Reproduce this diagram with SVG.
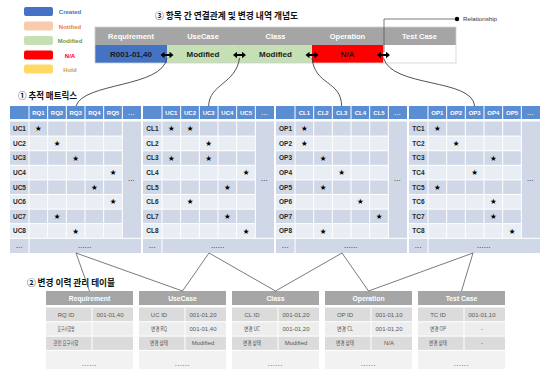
<svg xmlns="http://www.w3.org/2000/svg" xmlns:xlink="http://www.w3.org/1999/xlink" width="540" height="369" viewBox="0 0 540 369">
<defs>
<style>
text{font-family:'Liberation Sans',Arial,sans-serif}
.lg{font-size:6px;font-weight:bold;text-anchor:middle}
.ti{font-family:'Noto Sans CJK KR','Noto Sans',sans-serif;font-weight:bold;font-size:9px;fill:#111}
.bh{font-size:7.5px;font-weight:bold;fill:#fff;text-anchor:middle}
.bd{font-size:8px;font-weight:bold;fill:#1a1a1a;text-anchor:middle}
.th{font-size:6px;font-weight:bold;fill:#fff;text-anchor:middle}
.rl{font-size:6.5px;font-weight:bold;fill:#262626;text-anchor:middle}
.dt{font-size:6px;font-weight:bold;fill:#333;text-anchor:middle;letter-spacing:0.6px}
.st{font-family:'DejaVu Sans',sans-serif;font-size:7.5px;fill:#000;text-anchor:middle}
.tbh{font-size:6.8px;font-weight:bold;fill:#fff;text-anchor:middle}
.tc{font-size:6px;fill:#595959;text-anchor:middle}
.kr{font-family:'Noto Sans CJK KR','Noto Sans',sans-serif;font-size:6px;fill:#595959;text-anchor:middle}
.cv{fill:none;stroke:#404040;stroke-width:0.9}
.ln{fill:none;stroke:#595959;stroke-width:0.8}
</style>
<path id="dbl" d="M-6.5,0 L-2.5,-3.2 L-2.5,-1 L2.5,-1 L2.5,-3.2 L6.5,0 L2.5,3.2 L2.5,1 L-2.5,1 L-2.5,3.2 Z" fill="#000"/>
<g id="grid">
<rect x="0" y="106" width="131" height="13" fill="#5B8DD3"/>
<rect x="0" y="121.5" width="112.33" height="14.6" fill="#D0D8E8"/>
<rect x="0" y="136.1" width="112.33" height="14.6" fill="#E9EDF4"/>
<rect x="0" y="150.7" width="112.33" height="14.6" fill="#D0D8E8"/>
<rect x="0" y="165.3" width="112.33" height="14.6" fill="#E9EDF4"/>
<rect x="0" y="179.9" width="112.33" height="14.6" fill="#D0D8E8"/>
<rect x="0" y="194.5" width="112.33" height="14.6" fill="#E9EDF4"/>
<rect x="0" y="209.1" width="112.33" height="14.6" fill="#D0D8E8"/>
<rect x="0" y="223.7" width="112.33" height="14.6" fill="#E9EDF4"/>
<rect x="112.33" y="121.5" width="18.67" height="116.8" fill="#D0D8E8"/>
<rect x="0" y="238.3" width="131" height="14.7" fill="#D0D8E8"/>
<path d="M19,106V253 M37.67,106V238.3 M56.33,106V238.3 M75,106V238.3 M93.67,106V238.3 M112.33,106V238.3 M0,136.1H112.33 M0,150.7H112.33 M0,165.3H112.33 M0,179.9H112.33 M0,194.5H112.33 M0,209.1H112.33 M0,223.7H112.33 M0,238.3H131" stroke="#fff" stroke-width="1" fill="none"/>
<text class="th" x="121.67" y="114.7" style="letter-spacing:0.6px">...</text>
<text class="dt" x="121.67" y="181">...</text>
<text class="dt" x="9.5" y="248">...</text>
<text class="dt" x="75" y="248">......</text>
</g>
<g id="tbl">
<rect x="0" y="291" width="87" height="14" fill="#A6A6A6"/>
<rect x="0" y="307.5" width="87" height="14.3" fill="#DBDBDB"/>
<rect x="0" y="321.8" width="87" height="14.3" fill="#EDEDED"/>
<rect x="0" y="336.1" width="87" height="14.3" fill="#DBDBDB"/>
<rect x="0" y="350.4" width="87" height="18.6" fill="#F2F2F2"/>
<path d="M0,321.8H87 M0,336.1H87 M0,350.4H87 M46,307.5V350.4" stroke="#fff" stroke-width="1" fill="none"/>
<text class="tc" x="43.5" y="365.5" style="letter-spacing:0.8px;font-weight:bold;fill:#666">......</text>
</g>
</defs>
<rect width="540" height="369" fill="#fff"/>

<g id="legend">
<rect x="24" y="7" width="29" height="9" rx="2" fill="#4472C4"/>
<text class="lg" x="70" y="14" fill="#4472C4">Created</text>
<rect x="24" y="21.5" width="29" height="9" rx="2" fill="#F8CBAD"/>
<text class="lg" x="70" y="28.5" fill="#ED7D31">Notified</text>
<rect x="24" y="36" width="29" height="9" rx="2" fill="#C5E0B4"/>
<text class="lg" x="70" y="43" fill="#6B9A3E">Modified</text>
<rect x="24" y="50.5" width="29" height="9" rx="2" fill="#FF0000"/>
<text class="lg" x="70" y="57.5" fill="#FF0000">N/A</text>
<rect x="24" y="64.5" width="29" height="9" rx="2" fill="#FFD966"/>
<text class="lg" x="70" y="71.5" fill="#C9A227">Hold</text>
</g>

<g id="titles">
<text class="ti" x="155" y="18.5" textLength="143" lengthAdjust="spacingAndGlyphs">③ 항목 간 연결관계 및 변경 내역 개념도</text>
<text class="ti" x="18" y="99" textLength="59" lengthAdjust="spacingAndGlyphs">① 추적 매트릭스</text>
<text class="ti" x="27" y="286" textLength="88" lengthAdjust="spacingAndGlyphs">② 변경 이력 관리 테이블</text>
</g>

<g id="concept-bar">
<rect x="95" y="27" width="361" height="18" fill="#A5A5A5"/>
<rect x="95" y="45" width="72" height="18" fill="#4472C4"/>
<rect x="167" y="45" width="72.5" height="18" fill="#C5E0B4"/>
<rect x="239.5" y="45" width="72.5" height="18" fill="#C5E0B4"/>
<rect x="312" y="45" width="71.5" height="18" fill="#FF0000"/>
<rect x="383.5" y="45" width="72.5" height="18" fill="#fff"/>
<path d="M239.5,45V63" stroke="#B5CFA3" stroke-width="0.6"/>
<rect x="95" y="27" width="361" height="36" fill="none" stroke="#D0D0D0" stroke-width="0.8"/>
<text class="bh" x="131" y="38.7">Requirement</text>
<text class="bh" x="203" y="38.7">UseCase</text>
<text class="bh" x="275.5" y="38.7">Class</text>
<text class="bh" x="347.5" y="38.7">Operation</text>
<text class="bh" x="419.5" y="38.7">Test Case</text>
<text class="bd" x="131" y="57">R001-01,40</text>
<text class="bd" x="203" y="57">Modified</text>
<text class="bd" x="275.5" y="57">Modified</text>
<text class="bd" x="347.5" y="57">N/A</text>
</g>

<g id="relationship-label">
<path d="M384,52V19H455" class="ln"/>
<circle cx="457" cy="19" r="2.2" fill="#000"/>
<text x="463" y="21.2" style="font-size:6.2px;fill:#333">Relationship</text>
</g>

<g id="matrix-rq-uc">
<use xlink:href="#grid" x="10"/>
<text class="th" x="38.33" y="114.7">RQ1</text><text class="th" x="57" y="114.7">RQ2</text><text class="th" x="75.67" y="114.7">RQ3</text><text class="th" x="94.33" y="114.7">RQ4</text><text class="th" x="113" y="114.7">RQ5</text>
<text class="rl" x="19.5" y="131.2">UC1</text><text class="rl" x="19.5" y="145.8">UC2</text><text class="rl" x="19.5" y="160.4">UC3</text><text class="rl" x="19.5" y="175">UC4</text><text class="rl" x="19.5" y="189.6">UC5</text><text class="rl" x="19.5" y="204.2">UC6</text><text class="rl" x="19.5" y="218.8">UC7</text><text class="rl" x="19.5" y="233.4">UC8</text>
<text class="st" x="38.33" y="131.4">★</text><text class="st" x="57" y="146">★</text><text class="st" x="75.67" y="160.6">★</text><text class="st" x="113" y="175.2">★</text><text class="st" x="94.33" y="189.8">★</text><text class="st" x="113" y="204.4">★</text><text class="st" x="57" y="219">★</text><text class="st" x="75.67" y="233.6">★</text>
</g>

<g id="matrix-uc-cl">
<use xlink:href="#grid" x="143"/>
<text class="th" x="171.33" y="114.7">UC1</text><text class="th" x="190" y="114.7">UC2</text><text class="th" x="208.67" y="114.7">UC3</text><text class="th" x="227.33" y="114.7">UC4</text><text class="th" x="246" y="114.7">UC5</text>
<text class="rl" x="152.5" y="131.2">CL1</text><text class="rl" x="152.5" y="145.8">CL2</text><text class="rl" x="152.5" y="160.4">CL3</text><text class="rl" x="152.5" y="175">CL4</text><text class="rl" x="152.5" y="189.6">CL5</text><text class="rl" x="152.5" y="204.2">CL6</text><text class="rl" x="152.5" y="218.8">CL7</text><text class="rl" x="152.5" y="233.4">CL8</text>
<text class="st" x="171.33" y="131.4">★</text><text class="st" x="190" y="131.4">★</text><text class="st" x="208.67" y="146">★</text><text class="st" x="171.33" y="160.6">★</text><text class="st" x="208.67" y="160.6">★</text><text class="st" x="246" y="175.2">★</text><text class="st" x="227.33" y="189.8">★</text><text class="st" x="190" y="204.4">★</text><text class="st" x="227.33" y="219">★</text><text class="st" x="246" y="233.6">★</text>
</g>

<g id="matrix-cl-op">
<use xlink:href="#grid" x="276"/>
<text class="th" x="304.33" y="114.7">CL1</text><text class="th" x="323" y="114.7">CL2</text><text class="th" x="341.67" y="114.7">CL3</text><text class="th" x="360.33" y="114.7">CL4</text><text class="th" x="379" y="114.7">CL5</text>
<text class="rl" x="285.5" y="131.2">OP1</text><text class="rl" x="285.5" y="145.8">OP2</text><text class="rl" x="285.5" y="160.4">OP3</text><text class="rl" x="285.5" y="175">OP4</text><text class="rl" x="285.5" y="189.6">OP5</text><text class="rl" x="285.5" y="204.2">OP6</text><text class="rl" x="285.5" y="218.8">OP7</text><text class="rl" x="285.5" y="233.4">OP8</text>
<text class="st" x="304.33" y="131.4">★</text><text class="st" x="304.33" y="146">★</text><text class="st" x="323" y="160.6">★</text><text class="st" x="341.67" y="175.2">★</text><text class="st" x="323" y="189.8">★</text><text class="st" x="360.33" y="204.4">★</text><text class="st" x="379" y="219">★</text><text class="st" x="323" y="233.6">★</text>
</g>

<g id="matrix-op-tc">
<use xlink:href="#grid" x="409"/>
<text class="th" x="437.33" y="114.7">OP1</text><text class="th" x="456" y="114.7">OP2</text><text class="th" x="474.67" y="114.7">OP3</text><text class="th" x="493.33" y="114.7">OP4</text><text class="th" x="512" y="114.7">OP5</text>
<text class="rl" x="418.5" y="131.2">TC1</text><text class="rl" x="418.5" y="145.8">TC2</text><text class="rl" x="418.5" y="160.4">TC3</text><text class="rl" x="418.5" y="175">TC4</text><text class="rl" x="418.5" y="189.6">TC5</text><text class="rl" x="418.5" y="204.2">TC6</text><text class="rl" x="418.5" y="218.8">TC7</text><text class="rl" x="418.5" y="233.4">TC8</text>
<text class="st" x="437.33" y="131.4">★</text><text class="st" x="456" y="146">★</text><text class="st" x="493.33" y="160.6">★</text><text class="st" x="474.67" y="175.2">★</text><text class="st" x="437.33" y="189.8">★</text><text class="st" x="493.33" y="204.4">★</text><text class="st" x="493.33" y="219">★</text><text class="st" x="512" y="233.6">★</text>
</g>

<g id="table-requirement">
<use xlink:href="#tbl" x="46"/>
<text class="tbh" x="89.5" y="300.5">Requirement</text>
<text class="tc" x="66" y="316.8">RQ ID</text><text class="tc" x="110" y="316.8">001-01,40</text>
<text class="kr" x="66" y="331.1" textLength="17" lengthAdjust="spacingAndGlyphs">요구사항명</text>
<text class="kr" x="66" y="345.4" textLength="25" lengthAdjust="spacingAndGlyphs">관련 요구사항</text>
</g>
<g id="table-usecase">
<use xlink:href="#tbl" x="139"/>
<text class="tbh" x="182.5" y="300.5">UseCase</text>
<text class="tc" x="159" y="316.8">UC ID</text><text class="tc" x="203" y="316.8">001-01,20</text>
<text class="kr" x="159" y="331.1" textLength="16" lengthAdjust="spacingAndGlyphs">변경 RQ</text><text class="tc" x="203" y="331">001-01,40</text>
<text class="kr" x="159" y="345.4" textLength="18" lengthAdjust="spacingAndGlyphs">변경 상태</text><text class="tc" x="203" y="345.3">Modified</text>
</g>
<g id="table-class">
<use xlink:href="#tbl" x="232"/>
<text class="tbh" x="275.5" y="300.5">Class</text>
<text class="tc" x="252" y="316.8">CL ID</text><text class="tc" x="296" y="316.8">001-01,20</text>
<text class="kr" x="252" y="331.1" textLength="16" lengthAdjust="spacingAndGlyphs">변경 UC</text><text class="tc" x="296" y="331">001-01,20</text>
<text class="kr" x="252" y="345.4" textLength="18" lengthAdjust="spacingAndGlyphs">변경 상태</text><text class="tc" x="296" y="345.3">Modified</text>
</g>
<g id="table-operation">
<use xlink:href="#tbl" x="325"/>
<text class="tbh" x="368.5" y="300.5">Operation</text>
<text class="tc" x="345" y="316.8">OP ID</text><text class="tc" x="389" y="316.8">001-01,10</text>
<text class="kr" x="345" y="331.1" textLength="16" lengthAdjust="spacingAndGlyphs">변경 CL</text><text class="tc" x="389" y="331">001-01,20</text>
<text class="kr" x="345" y="345.4" textLength="18" lengthAdjust="spacingAndGlyphs">변경 상태</text><text class="tc" x="389" y="345.3">N/A</text>
</g>
<g id="table-testcase">
<use xlink:href="#tbl" x="418"/>
<text class="tbh" x="461.5" y="300.5">Test Case</text>
<text class="tc" x="438" y="316.8">TC ID</text><text class="tc" x="482" y="316.8">001-01,10</text>
<text class="kr" x="438" y="331.1" textLength="16" lengthAdjust="spacingAndGlyphs">변경 OP</text><text class="tc" x="482" y="331">-</text>
<text class="kr" x="438" y="345.4" textLength="18" lengthAdjust="spacingAndGlyphs">변경 상태</text><text class="tc" x="482" y="345.3">-</text>
</g>

<g id="connectors">
<path class="cv" d="M167,58 C162,88 84,82 76,106"/>
<path class="cv" d="M239.5,58 C236,84 209,84 208.67,106"/>
<path class="cv" d="M312,58 C315,86 341,80 341.67,106"/>
<path class="cv" d="M383.5,58 C392,88 472,78 474.67,106"/>
<use xlink:href="#dbl" x="167" y="55"/>
<use xlink:href="#dbl" x="239.5" y="55"/>
<use xlink:href="#dbl" x="312" y="55"/>
<use xlink:href="#dbl" x="383.5" y="55"/>
<path class="ln" d="M89.5,291 L76,253 L182.5,291"/>
<path class="ln" d="M182.5,291 L209,253 L275.5,291"/>
<path class="ln" d="M275.5,291 L342,253 L368.5,291"/>
<path class="ln" d="M368.5,291 L473,253 L461.5,291"/>
</g>
</svg>
